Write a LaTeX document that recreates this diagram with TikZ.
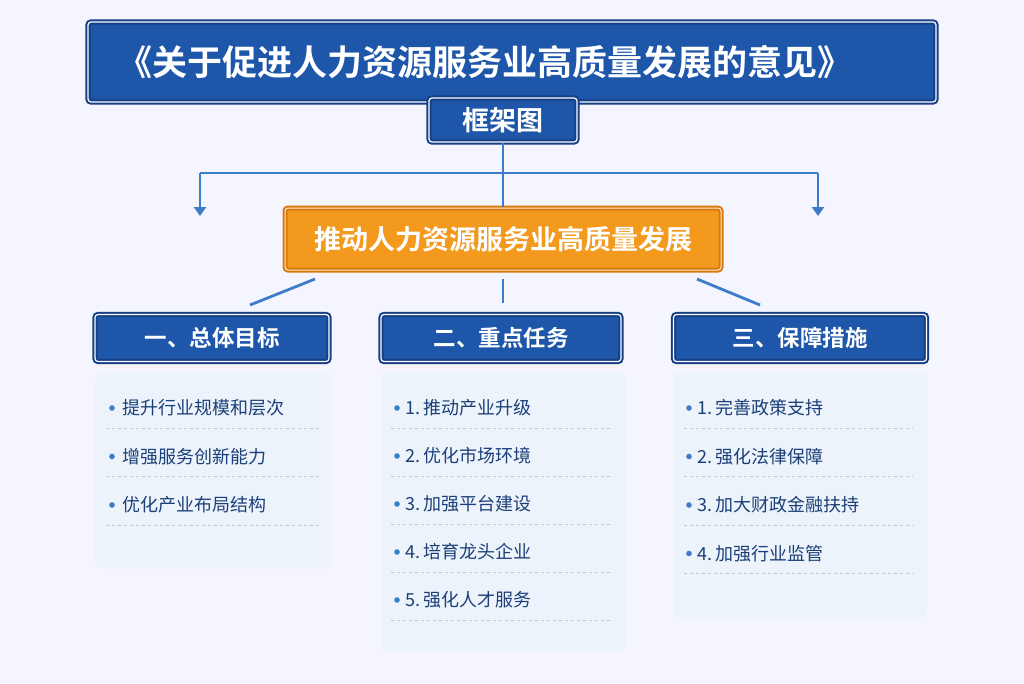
\documentclass[tikz,border=0pt]{standalone}
\usepackage{fontspec}
\usetikzlibrary{arrows.meta}
\newfontfamily\cjk{Noto Sans CJK SC}
\newfontfamily\cjkb{Noto Sans CJK SC Bold}
\definecolor{dblue}{HTML}{1E56AA}
\definecolor{bborder}{HTML}{163F85}
\definecolor{orng}{HTML}{F39A1E}
\definecolor{oborder}{HTML}{D9780C}
\definecolor{panel}{HTML}{EDF3FB}
\definecolor{itemc}{HTML}{1B3F78}
\definecolor{linec}{HTML}{3D7CC9}
\begin{document}
\begin{tikzpicture}[x=1pt,y=-1pt,
  bluebox/.style={draw=bborder,line width=2pt,fill=dblue,rounded corners=3pt,double=white,double distance=1.2pt},
  head/.style={bluebox,minimum height=47pt,text=white,font=\cjkb\fontsize{22.5}{26}\selectfont},
  conn/.style={draw=linec,line width=2.8pt},
  item/.style={anchor=west,text=itemc,font=\cjk\fontsize{18}{20}\selectfont},
  sep/.style={draw=gray!45,dashed,line width=0.6pt}]
\fill[white!96!blue] (0,0) rectangle (1024,683);
\useasboundingbox (0,0) rectangle (1024,683);
% title
\node[bluebox,minimum width=848pt,minimum height=80pt] (title) at (512,62) {};
\node[text=white,font=\cjkb\fontsize{35}{40}\selectfont] (tt) at (485,62) {《关于促进人力资源服务业高质量发展的意见》};
\node[bluebox,minimum width=148pt,minimum height=44pt,text=white,font=\cjkb\fontsize{27}{30}\selectfont] (kj) at (503,120) {框架图};
% orange
\node[draw=oborder,line width=2pt,fill=orng,rounded corners=3pt,double=white!80!orng,double distance=1pt,minimum width=436pt,minimum height=62pt,text=white,font=\cjkb\fontsize{27}{30}\selectfont] (core) at (503,239) {推动人力资源服务业高质量发展};
\coordinate (hl) at (200,173); \coordinate (hr) at (818,173);
\coordinate (al) at (200,216); \coordinate (ar) at (818,216);
\draw[conn] (kj.south) -- (core.north);
\draw[conn] (hl) -- (hr);
\draw[conn,-{Triangle[length=9pt,width=12pt]}] (hl) -- (al);
\draw[conn,-{Triangle[length=9pt,width=12pt]}] (hr) -- (ar);
% section heads
\node[head,minimum width=234pt] (s1) at (212,338) {一、总体目标};
\node[head,minimum width=240pt] (s2) at (501,338) {二、重点任务};
\node[head,minimum width=253pt] (s3) at (800,338) {三、保障措施};
\coordinate (c1) at (315,279); \coordinate (c3) at (697,279);
\coordinate (c2) at (503,279);
\coordinate (e1) at (250,305); \coordinate (e3) at (760,305); \coordinate (e2) at (503,303);
\draw[conn] (c1) -- (e1);
\draw[conn] (c3) -- (e3);
\draw[conn] (c2) -- (e2);
% panels
\fill[panel,rounded corners=6pt] (95,373) rectangle (332,568);
\fill[panel,rounded corners=6pt] (381,373) rectangle (625,652);
\fill[panel,rounded corners=6pt] (673,373) rectangle (927,617);
% items
\foreach \t [count=\i] in {提升行业规模和层次,增强服务创新能力,优化产业布局结构}{
  \pgfmathsetmacro\yy{408+48.5*(\i-1)}
  \fill[linec] (112,\yy) circle (2.8pt);
  \node[item] at (119,\yy) {\t};
  \draw[sep] (106,\yy+20) -- (322,\yy+20);}
\foreach \t [count=\i] in {1.\,推动产业升级,2.\,优化市场环境,3.\,加强平台建设,4.\,培育龙头企业,5.\,强化人才服务}{
  \pgfmathsetmacro\yy{408+48*(\i-1)}
  \fill[linec] (397,\yy) circle (2.8pt);
  \node[item] at (402,\yy) {\t};
  \draw[sep] (391,\yy+20) -- (613,\yy+20);}
\foreach \t [count=\i] in {1.\,完善政策支持,2.\,强化法律保障,3.\,加大财政金融扶持,4.\,加强行业监管}{
  \pgfmathsetmacro\yy{408+48.5*(\i-1)}
  \fill[linec] (689,\yy) circle (2.8pt);
  \node[item] at (694,\yy) {\t};
  \draw[sep] (684,\yy+20) -- (913,\yy+20);}
\end{tikzpicture}
\end{document}
